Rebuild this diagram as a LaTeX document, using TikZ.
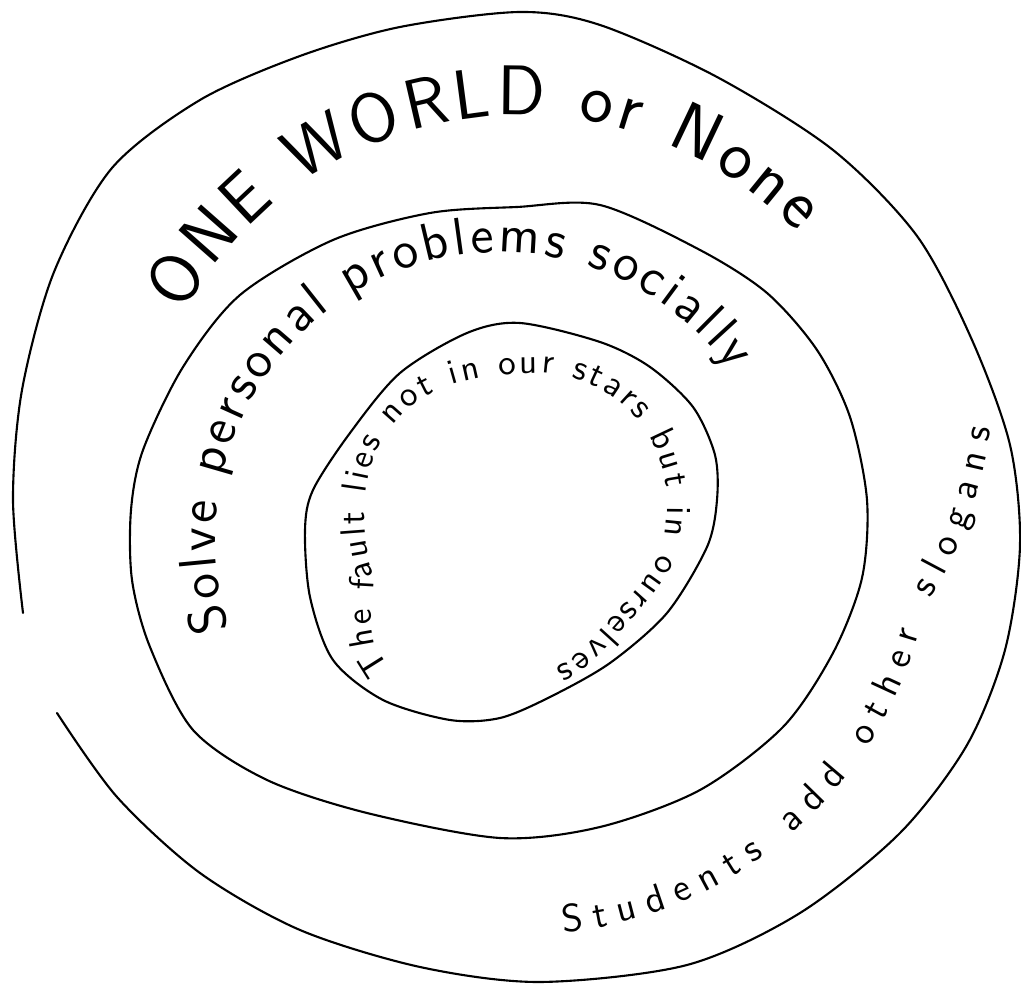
\documentclass[tikz,border=0pt]{standalone}
\usetikzlibrary{decorations.text}
\newcommand{\worldfont}{\sffamily\fontsize{20}{24}\selectfont}
\newcommand{\solvefont}{\sffamily\fontsize{15}{18}\selectfont}
\newcommand{\faultfont}{\sffamily\fontsize{10}{12}\selectfont}
\newcommand{\addfont}{\sffamily\fontsize{11}{13}\selectfont}
\begin{document}
\begin{tikzpicture}[x=0.01cm,y=-0.01cm,
  declare function={bmp(\a,\c,\w)=(max(0,1-((\a-\c)/\w)^2))^2;},
  ring/.style={line width=0.6pt,line cap=round,line join=round},
  slogan/.style={decorate,decoration={text along path,text align={fit to path},text={#1}}}]
\useasboundingbox (0,0) rectangle (1021,989);
% outer ring (open on the left)
\draw[ring] plot[smooth] coordinates {(57,713) (117,797) (200,873) (300,930) (420,967) (540,982) (687,965) (800,913) (900,833) (967,745) (1005,650) (1020,545) (1010,445) (972,340) (917,236) (833,150) (717,77) (600,25) (520,12) (400,27) (300,56) (200,100) (112,168) (54,272) (22,390) (13,500) (23,613)};
% middle ring
\draw[ring] plot[smooth cycle] coordinates {(517,207) (600,205) (700,250) (767,293) (817,350) (850,417) (867,500) (862,578) (833,653) (783,727) (700,790) (600,827) (500,838) (367,813) (267,780) (193,730) (150,647) (132,580) (131,510) (143,450) (183,367) (240,295) (333,240) (430,213)};
% inner ring
\draw[ring] plot[smooth cycle] coordinates {(520,323) (600,342) (650,367) (693,407) (715,455) (717,500) (707,547) (667,613) (610,663) (550,697) (500,718) (450,720) (383,700) (333,660) (310,597) (305,530) (313,490) (350,433) (400,373) (467,333)};
% slogans
\path[slogan={|\worldfont|ONE WORLD or None}] plot[domain=151:44,samples=40,variable=\t] ({520+385*cos(\t)},{500-385*sin(\t)});
\path[slogan={|\solvefont|Solve personal problems socially}] plot[domain=198:36,samples=60,variable=\t] ({500+285*cos(\t)},{540-288*sin(\t)});
\path[slogan={|\faultfont|The fault lies not in our stars but in ourselves}] plot[domain=229:-74,samples=90,variable=\t]
  ({515+(150+38*bmp(\t,228,30)+12*bmp(\t,45,55)+8*bmp(\t,140,45)-16*bmp(\t,-42,38))*cos(\t)},
   {525-(150+38*bmp(\t,228,30)+12*bmp(\t,45,55)+8*bmp(\t,140,45)-16*bmp(\t,-42,38))*sin(\t)});
\path[slogan={|\addfont|Students add other slogans}] plot[domain=-84:11,samples=50,variable=\t]
  ({520+(415+2.8*max(0,\t+12))*cos(\t)},{520-(415+2.8*max(0,\t+12))*sin(\t)});
\end{tikzpicture}
\end{document}
